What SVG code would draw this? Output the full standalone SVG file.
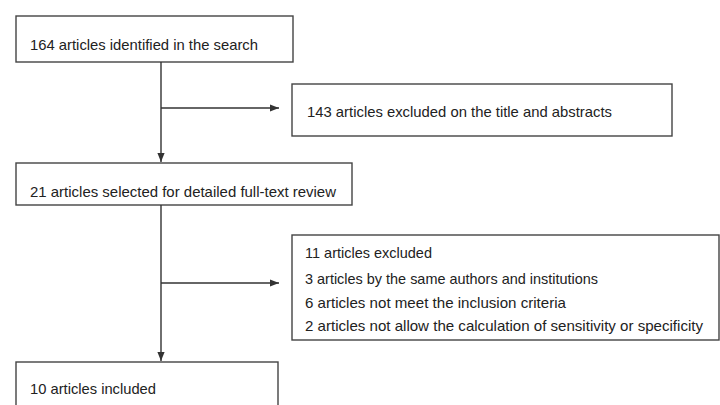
<svg xmlns="http://www.w3.org/2000/svg" width="720" height="405" viewBox="0 0 720 405">
<defs>
<marker id="ah" viewBox="0 0 10 10" refX="10" refY="5" markerWidth="9" markerHeight="9" markerUnits="userSpaceOnUse" orient="auto">
<path d="M0,1 L10,5 L0,9 Z" fill="#333"/>
</marker>
</defs>
<style>
.box{fill:#fff;stroke:#444;stroke-width:1.4}
.t{font-family:"Liberation Sans","Open Sans",sans-serif;font-size:14.5px;fill:#222}
.c{stroke:#333;stroke-width:1.4;fill:none}
</style>
<rect width="720" height="405" fill="#fff"/>
<g id="n1"><rect class="box" x="16" y="16" width="277" height="46"/><text class="t" x="30" y="50" textLength="228" lengthAdjust="spacingAndGlyphs">164 articles identified in the search</text></g>
<g id="n2"><rect class="box" x="292" y="84" width="380" height="52"/><text class="t" x="307" y="117" textLength="305" lengthAdjust="spacingAndGlyphs">143 articles excluded on the title and abstracts</text></g>
<g id="n3"><rect class="box" x="16" y="163" width="336" height="42"/><text class="t" x="30" y="197" textLength="306" lengthAdjust="spacingAndGlyphs">21 articles selected for detailed full-text review</text></g>
<g id="n4"><rect class="box" x="292" y="235" width="427" height="105"/>
<text class="t" x="305" y="258" textLength="127" lengthAdjust="spacingAndGlyphs">11 articles excluded</text>
<text class="t" x="305" y="284" textLength="293" lengthAdjust="spacingAndGlyphs">3 articles by the same authors and institutions</text>
<text class="t" x="305" y="308" textLength="261" lengthAdjust="spacingAndGlyphs">6 articles not meet the inclusion criteria</text>
<text class="t" x="305" y="331" textLength="398" lengthAdjust="spacingAndGlyphs">2 articles not allow the calculation of sensitivity or specificity</text>
</g>
<g id="n5"><rect class="box" x="16" y="362" width="262" height="60"/><text class="t" x="30" y="394" textLength="126" lengthAdjust="spacingAndGlyphs">10 articles included</text></g>
<g id="connectors">
<line class="c" x1="161" y1="62" x2="161" y2="162" marker-end="url(#ah)"/>
<line class="c" x1="161" y1="108" x2="279" y2="108" marker-end="url(#ah)"/>
<line class="c" x1="161" y1="205" x2="161" y2="361" marker-end="url(#ah)"/>
<line class="c" x1="161" y1="283" x2="279" y2="283" marker-end="url(#ah)"/>
</g>
</svg>
